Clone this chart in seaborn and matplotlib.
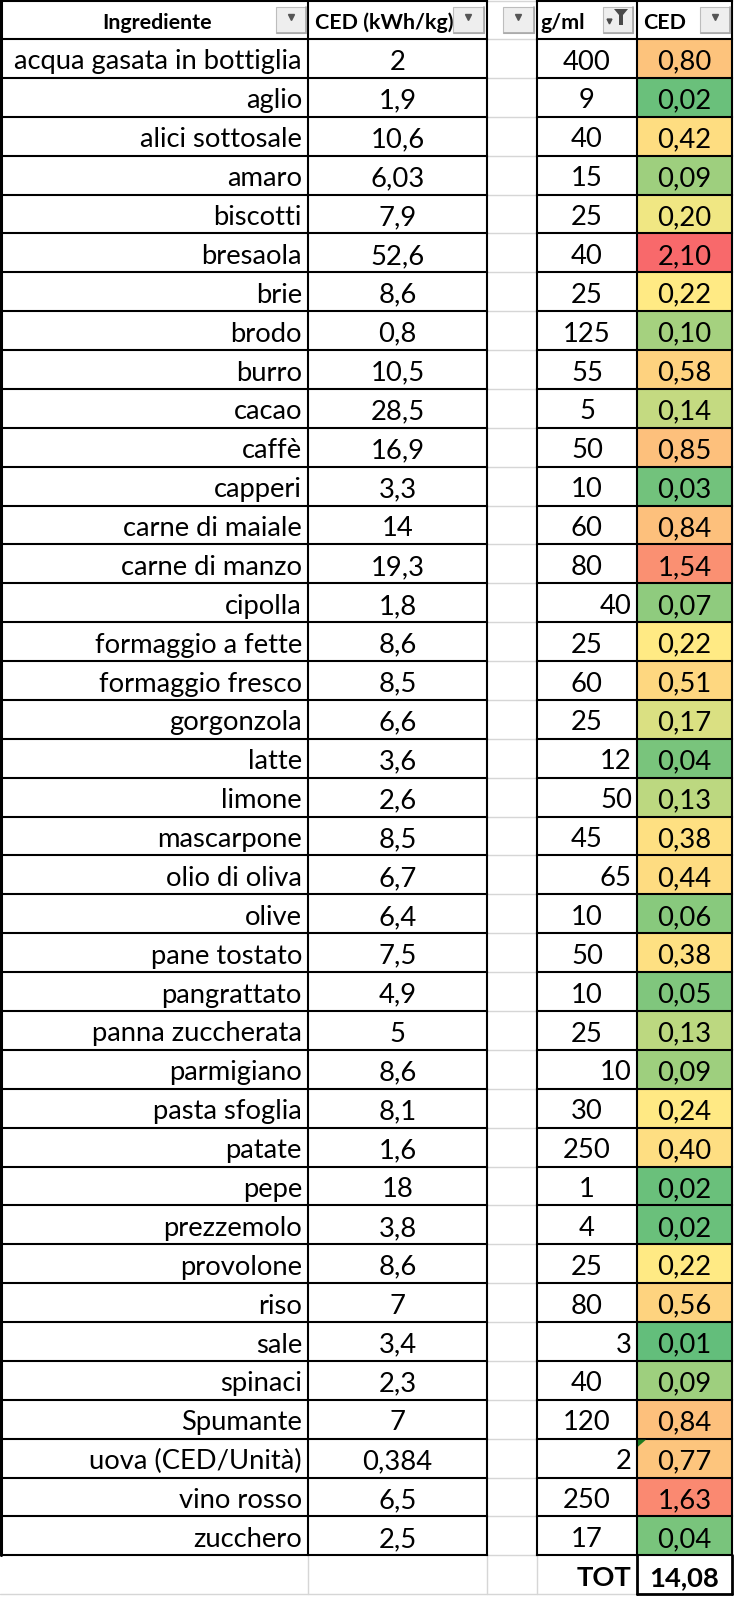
import numpy as np
import pandas as pd
import matplotlib
matplotlib.use("Agg")
import matplotlib.pyplot as plt
import seaborn as sns
from matplotlib.colors import LinearSegmentedColormap, TwoSlopeNorm
from matplotlib.textpath import TextPath
from matplotlib.font_manager import FontProperties
from matplotlib.patches import Rectangle, Polygon

# ---------------- data ----------------
ingredienti = [
    "acqua gasata in bottiglia", "aglio", "alici sottosale", "amaro", "biscotti",
    "bresaola", "brie", "brodo", "burro", "cacao", "caffè", "capperi",
    "carne di maiale", "carne di manzo", "cipolla", "formaggio a fette",
    "formaggio fresco", "gorgonzola", "latte", "limone", "mascarpone",
    "olio di oliva", "olive", "pane tostato", "pangrattato", "panna zuccherata",
    "parmigiano", "pasta sfoglia", "patate", "pepe", "prezzemolo", "provolone",
    "riso", "sale", "spinaci", "Spumante", "uova (CED/Unità)", "vino rosso",
    "zucchero",
]
ced_kwh_kg = [2, 1.9, 10.6, 6.03, 7.9, 52.6, 8.6, 0.8, 10.5, 28.5, 16.9, 3.3,
              14, 19.3, 1.8, 8.6, 8.5, 6.6, 3.6, 2.6, 8.5, 6.7, 6.4, 7.5, 4.9,
              5, 8.6, 8.1, 1.6, 18, 3.8, 8.6, 7, 3.4, 2.3, 7, 0.384, 6.5, 2.5]
grammi_ml = [400, 9, 40, 15, 25, 40, 25, 125, 55, 5, 50, 10, 60, 80, 40, 25,
             60, 25, 12, 50, 45, 65, 10, 50, 10, 25, 10, 30, 250, 1, 4, 25, 80,
             3, 40, 120, 2, 250, 17]
ced = [0.80, 0.02, 0.42, 0.09, 0.20, 2.10, 0.22, 0.10, 0.58, 0.14, 0.85, 0.03,
       0.84, 1.54, 0.07, 0.22, 0.51, 0.17, 0.04, 0.13, 0.38, 0.44, 0.06, 0.38,
       0.05, 0.13, 0.09, 0.24, 0.40, 0.02, 0.02, 0.22, 0.56, 0.01, 0.09, 0.84,
       0.77, 1.63, 0.04]
totale_label = "TOT"
totale = 14.08
intestazioni = ["Ingrediente", "CED (kWh/kg)", "g/ml", "CED"]

# style: rows whose g/ml cell is right aligned in the sheet
right_aligned = {"cipolla", "latte", "limone", "olio di oliva", "parmigiano",
                 "sale", "uova (CED/Unità)"}

def it_num(v, fmt="%g"):
    return (fmt % v).replace(".", ",")

# ---------------- geometry ----------------
W, H = 735, 1597
X0, X1, X2, X3, X4, X5 = 1, 308, 487, 537, 637, 732
HDR_TOP, ROW0, RH = 1, 39, 38.88
n = len(ingredienti)
TOT_TOP = ROW0 + n * RH
TOT_BOT = TOT_TOP + RH
BASE = 30.5     # baseline offset from row top
FONT = ["Lato", "DejaVu Sans"]

def ink_width(s, weight):
    tp = TextPath((0, 0), s, size=1, prop=FontProperties(family=FONT, weight=weight))
    return tp.get_extents().width * 100 / 72

fs_body = 286 / ink_width("acqua gasata in bottiglia", "normal")
fs_head = 137 / ink_width("CED (kWh/kg)", "bold")

sns.set_theme(style="white")
plt.rcParams["font.family"] = FONT

fig = plt.figure(figsize=(W / 100, H / 100), dpi=100)
fig.patch.set_facecolor("white")
ax = fig.add_axes([0, 0, 1, 1])
ax.set_xlim(0, W)
ax.set_ylim(H, 0)
ax.axis("off")
ax.patch.set_visible(False)
ax.set_zorder(3)

# ---------------- heatmap column (CED) ----------------
ax_hm = fig.add_axes([X4 / W, 1 - TOT_TOP / H, (X5 - X4) / W, (TOT_TOP - ROW0) / H])
ax_hm.set_zorder(1)
cmap = LinearSegmentedColormap.from_list("excel3", ["#63BE7B", "#FFEB84", "#F8696B"])
norm = TwoSlopeNorm(vmin=min(ced), vcenter=float(np.median(ced)), vmax=max(ced))
df = pd.DataFrame({"CED": ced}, index=ingredienti)
labels = np.array([[it_num(v, "%.2f")] for v in ced])
sns.heatmap(df, ax=ax_hm, cmap=cmap, norm=norm, annot=labels, fmt="",
            cbar=False, xticklabels=False, yticklabels=False, linewidths=0,
            annot_kws=dict(color="black", fontsize=fs_body, family=FONT))
ax_hm.set_xlabel("")
ax_hm.set_ylabel("")
for t in ax_hm.texts:
    x, y = t.get_position()
    t.set_position((x, y - 0.5 + BASE / RH))
    t.set_verticalalignment("baseline")

# ---------------- grid lines ----------------
blk = dict(color="black", lw=1.5, solid_capstyle="projecting", zorder=5)
gry = dict(color="#d6d6d6", lw=1.0, zorder=4)
bounds = [HDR_TOP, ROW0] + [ROW0 + RH * k for k in range(1, n + 1)]
for yb in bounds:
    ax.plot([X0, X2], [yb, yb], **blk)
    ax.plot([X3, X5], [yb, yb], **blk)
    ax.plot([X2, X3], [yb, yb], **gry)
ax.plot([X4, X5], [TOT_BOT, TOT_BOT], color="black", lw=2.0, zorder=6)
ax.plot([0, X4], [TOT_BOT, TOT_BOT], **gry)
for xv in [X1, X2, X3]:
    ax.plot([xv, xv], [TOT_TOP, TOT_BOT], **gry)
for xv in [X0, X1, X2, X3, X4, X5]:
    ax.plot([xv, xv], [HDR_TOP, TOT_TOP], **blk)
for xv in [X4, X5]:
    ax.plot([xv, xv], [TOT_TOP, TOT_BOT], color="black", lw=2.0, zorder=6)
ax.plot([X0, X0], [HDR_TOP, TOT_TOP], color="black", lw=2.2, zorder=6)

# ---------------- header ----------------
hb = HDR_TOP + 28
ax.text(157, hb, intestazioni[0], ha="center", va="baseline", fontsize=fs_head,
        fontweight="bold", color="black")
ax.text(315, hb, intestazioni[1], ha="left", va="baseline", fontsize=fs_head,
        fontweight="bold", color="black")
ax.text(541, hb, intestazioni[2], ha="left", va="baseline", fontsize=fs_head,
        fontweight="bold", color="black")
ax.text(643, hb, intestazioni[3], ha="left", va="baseline", fontsize=fs_head,
        fontweight="bold", color="black")

buttons = [(276, 306), (453, 484), (503, 534), (603, 633), (700, 730)]
for i, (b0, b1) in enumerate(buttons):
    ax.add_patch(Rectangle((b0, 7), b1 - b0, 26, facecolor="#eeeeee",
                           edgecolor="#bdbdbd", lw=0.8, zorder=6))
    ax.plot([b0 + 1, b1], [33, 33], color="#a8a8a8", lw=1.2, zorder=7)
    ax.plot([b1, b1], [7, 33], color="#a8a8a8", lw=1.2, zorder=7)
    if i == 3:
        ax.add_patch(Polygon([(614, 9), (628, 9), (623, 15), (623, 25),
                              (619, 25), (619, 15)], closed=True,
                             facecolor="#4a4a4a", edgecolor="none", zorder=8))
        ax.plot([609], [21], marker="v", ms=3.5, color="#4a4a4a", zorder=8)
    else:
        ax.plot([(b0 + b1) / 2], [17], marker="v", ms=5, color="#555555", zorder=8)

# ---------------- body text ----------------
for i, (nome, kwh, g) in enumerate(zip(ingredienti, ced_kwh_kg, grammi_ml)):
    yb = ROW0 + i * RH + BASE
    ax.text(X1 - 6, yb, nome, ha="right", va="baseline", fontsize=fs_body, color="black")
    ax.text((X1 + X2) / 2, yb, it_num(kwh), ha="center", va="baseline",
            fontsize=fs_body, color="black")
    if nome in right_aligned:
        ax.text(X4 - 5, yb, str(g), ha="right", va="baseline", fontsize=fs_body, color="black")
    else:
        ax.text((X3 + X4) / 2, yb, str(g), ha="center", va="baseline",
                fontsize=fs_body, color="black")

# error indicator in the uova cell
iu = ingredienti.index("uova (CED/Unità)")
ty = ROW0 + iu * RH
ax.add_patch(Polygon([(X4 + 1, ty + 1), (X4 + 9, ty + 1), (X4 + 1, ty + 8)], closed=True,
                     facecolor="#1f7a1f", edgecolor="none", zorder=7))

# total row
yb = TOT_TOP + BASE
ax.text(X4 - 6, yb, totale_label, ha="right", va="baseline", fontsize=fs_body,
        fontweight="bold", color="black")
ax.text((X4 + X5) / 2, yb, it_num(totale, "%.2f"), ha="center", va="baseline",
        fontsize=fs_body, fontweight="bold", color="black")

fig.savefig("out.png", dpi=100, facecolor="white")
